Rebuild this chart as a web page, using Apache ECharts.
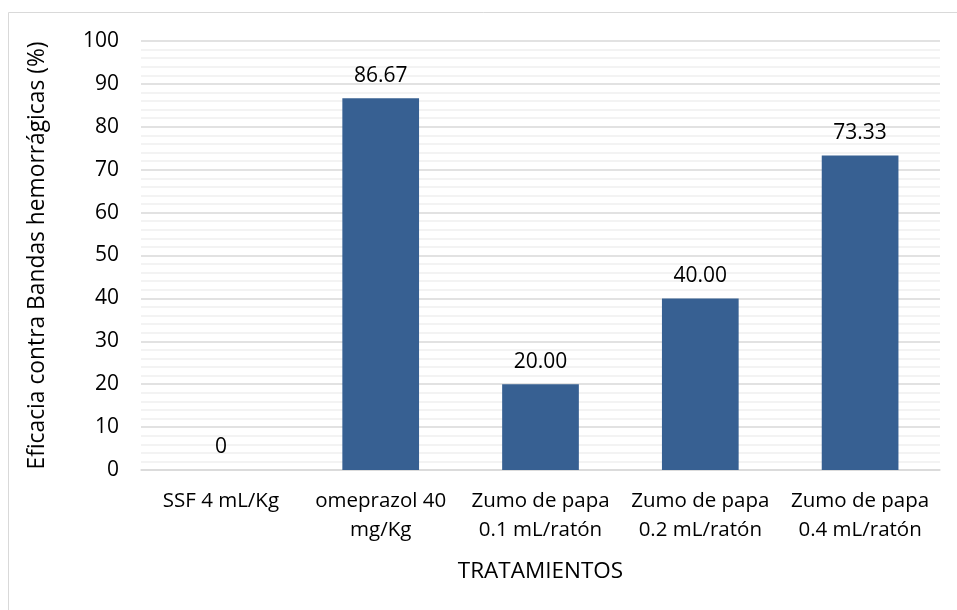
<!DOCTYPE html>
<html>
<head>
<meta charset="utf-8">
<script src="https://cdn.jsdelivr.net/npm/echarts@6/dist/echarts.min.js"></script>
<style>html,body{margin:0;padding:0;background:#fff}#c{width:957px;height:610px}</style>
</head>
<body>
<div id="c"></div>
<script>
const categories = ['SSF 4 mL/Kg', 'omeprazol 40\nmg/Kg', 'Zumo de papa\n0.1 mL/ratón', 'Zumo de papa\n0.2 mL/ratón', 'Zumo de papa\n0.4 mL/ratón'];
const values = [0, 86.67, 20.00, 40.00, 73.33];
const valueLabels = ['0', '86.67', '20.00', '40.00', '73.33'];
const yTicks = {min: 0, max: 100, interval: 10};
const xTitle = 'TRATAMIENTOS';
const yTitle = 'Eficacia contra Bandas hemorrágicas (%)';

const FONT = 'Open Sans';
const chart = echarts.init(document.getElementById('c'));
chart.setOption({
  animation: false,
  textStyle: {fontFamily: FONT},
  graphic: [{
    type: 'rect', silent: true,
    shape: {x: 8.5, y: 12.5, width: 1000, height: 700},
    style: {fill: 'none', stroke: '#d9d9d9', lineWidth: 1}
  }],
  grid: {left: 141, right: 17, top: 41, bottom: 140},
  xAxis: {
    type: 'category',
    data: categories,
    name: xTitle,
    nameLocation: 'middle',
    nameGap: 90,
    nameTextStyle: {fontSize: 22.5, color: '#000', fontFamily: FONT, verticalAlign: 'top'},
    axisLine: {lineStyle: {color: '#d9d9d9', width: 1.5}},
    axisTick: {show: false},
    axisLabel: {fontSize: 20.5, color: '#000', fontFamily: FONT, lineHeight: 29, margin: 17, interval: 0}
  },
  yAxis: {
    type: 'value',
    min: yTicks.min, max: yTicks.max, interval: yTicks.interval,
    name: yTitle,
    nameLocation: 'middle',
    nameGap: 92,
    nameTextStyle: {fontSize: 22.8, color: '#000', fontFamily: FONT},
    axisLine: {show: false},
    axisTick: {show: false},
    axisLabel: {fontSize: 21, color: '#000', fontFamily: FONT, margin: 22},
    splitLine: {lineStyle: {color: '#d9d9d9', width: 1.5}},
    minorTick: {show: false, splitNumber: 5},
    minorSplitLine: {show: true, lineStyle: {color: '#f0f0f0', width: 1.5}}
  },
  series: [{
    type: 'bar',
    data: values,
    barWidth: '48%',
    itemStyle: {color: '#376092'},
    label: {
      show: true, position: 'top', distance: 12,
      fontSize: 21, color: '#000', fontFamily: FONT,
      formatter: p => valueLabels[p.dataIndex]
    }
  }]
});
</script>
</body>
</html>
